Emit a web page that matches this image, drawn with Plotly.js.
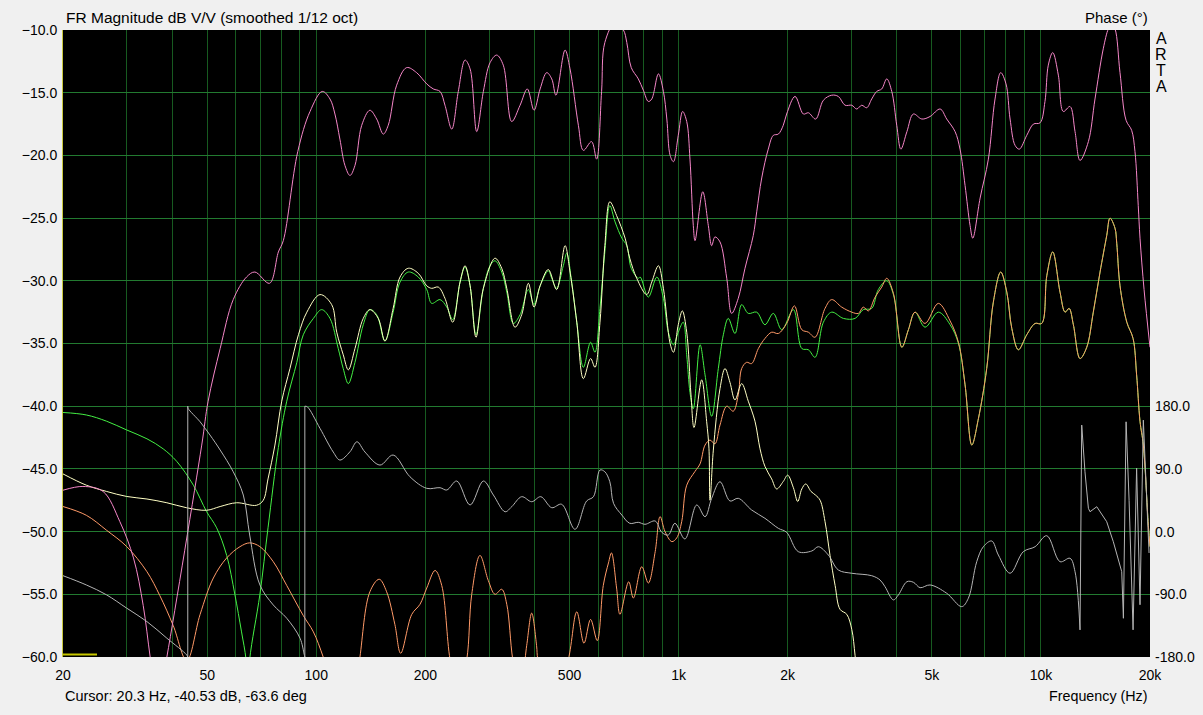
<!DOCTYPE html>
<html>
<head>
<meta charset="utf-8">
<script src="https://cdn.plot.ly/plotly-3.0.1.min.js"></script>
<style>
  html, body { margin: 0; padding: 0; background: #f0f0f0; }
  #chart { width: 1203px; height: 715px; }
</style>
</head>
<body>
<div id="chart"></div>
<script>
// ---- tick definitions ----
const gridFreqs = [20,30,40,50,60,70,80,90,100,200,300,400,500,600,700,800,900,1000,2000,3000,4000,5000,6000,7000,8000,9000,10000,20000];
const gridLabels = ['20','','','50','','','','','100','200','','','500','','','','','1k','2k','','','5k','','','','','10k','20k'];
const dbTicks = [-60,-55,-50,-45,-40,-35,-30,-25,-20,-15,-10];
const phaseTicks = [-180,-90,0,90,180];
const phaseLabels = ['-180.0','-90.0','0.0','90.0','180.0'];

// ---- series: [frequency Hz, value] ----
const pinkMag = [[20,-46.7],[22.7,-46.4],[25.8,-46.8],[28.7,-49.2],[31.3,-52.1],[33.3,-55.9],[34.8,-60.0],[36.5,-64],[38.7,-60.0],[48.3,-43.1],[50.3,-39.6],[54.3,-35.4],[59.0,-31.5],[64.2,-29.7],[67.7,-29.3],[74.3,-30.2],[78.6,-27.7],[81.1,-26.8],[88.9,-19.7],[96.1,-16.5],[103.9,-14.9],[109.1,-15.5],[112.6,-16.7],[116.2,-18.7],[120.0,-20.8],[123.9,-21.6],[127.9,-20.8],[133.5,-17.6],[140.6,-16.4],[146.8,-17.1],[153.1,-18.3],[158.0,-17.6],[166.7,-14.4],[177.6,-13.0],[189.2,-13.4],[201.8,-14.3],[210.4,-14.7],[219.6,-14.9],[226.6,-16.0],[236.6,-17.9],[246.6,-14.9],[257.4,-12.4],[265.8,-13.1],[277.2,-18.1],[289.2,-14.9],[301.8,-12.6],[314.8,-12.0],[328.2,-12.8],[346.2,-17.3],[365.2,-16.0],[382.4,-14.7],[399,-16.4],[414.8,-14.7],[432.6,-13.4],[446.6,-13.9],[458.6,-15.2],[486,-11.6],[501.6,-13.1],[529,-17.6],[546,-19.6],[575.2,-18.9],[594,-20.3],[613,-14.9],[625.8,-11.0],[667.8,-9.4],[704.2,-10.0],[719.6,-11.0],[740.2,-13.0],[774.2,-13.9],[799.2,-14.8],[825,-15.7],[843.2,-15.5],[879.8,-13.5],[908,-14.9],[928,-17.1],[947.6,-20.0],[968,-20.5],[998,-18.4],[1026,-16.5],[1053,-17.3],[1075,-20.3],[1098,-25.6],[1110,-26.8],[1166,-22.9],[1208,-25.6],[1234,-27.2],[1260,-26.5],[1301,-26.9],[1358,-29.8],[1401,-32.6],[1461,-31.4],[1525,-29.0],[1607,-26.4],[1643,-24.5],[1696,-21.8],[1768,-19.5],[1826,-18.4],[1885,-18.3],[1945,-17.6],[1987,-16.7],[2096,-15.3],[2210,-16.7],[2282,-16.6],[2390,-17.1],[2510,-15.6],[2646,-15.2],[2760,-15.3],[2880,-16.0],[3006,-16.0],[3102,-16.3],[3202,-16.0],[3306,-16.2],[3412,-15.5],[3522,-14.9],[3636,-14.7],[3754,-13.9],[3876,-14.9],[4000,-17.6],[4106,-19.5],[4268,-18.1],[4446,-16.7],[4692,-17.1],[4942,-16.9],[5270,-16.3],[5495,-17.1],[5795,-18.1],[5980,-19.5],[6175,-22.4],[6375,-25.6],[6485,-26.6],[6795,-23.4],[7160,-20.3],[7470,-15.5],[7745,-13.4],[8010,-14.3],[8220,-17.1],[8485,-19.2],[8720,-19.5],[9140,-18.4],[9535,-17.5],[9945,-17.4],[10260,-15.7],[10480,-12.8],[10780,-11.8],[11170,-13.6],[11530,-16.5],[12030,-16.1],[12420,-18.1],[12820,-20.4],[13520,-18.9],[14100,-15.5],[14860,-11.5],[15350,-9.9],[15660,-9.5],[16010,-9.9],[16530,-13.4],[17180,-17.2],[17800,-18.0],[18180,-19.7],[18560,-24.0],[18770,-26.6],[19260,-30.7],[20000,-35.3]];

const greenMag = [[20,-40.5],[23.2,-40.7],[26.4,-41.2],[30.0,-41.9],[34.1,-42.6],[37.8,-43.4],[41.2,-44.4],[45.8,-46.3],[49.8,-48.4],[53.1,-49.7],[56.6,-51.9],[59.6,-55.0],[62.2,-58.0],[64.0,-60.2],[64.8,-63],[65.5,-60.2],[69.9,-55.0],[73.6,-49.7],[78.6,-43.3],[82.9,-39.6],[88.4,-36.5],[92.1,-34.3],[98.2,-33.0],[103.5,-32.3],[109.1,-33.0],[115,-35.4],[118.7,-37.0],[122.6,-38.2],[127.9,-36.5],[134.8,-33.5],[140.6,-32.3],[146.8,-32.7],[154.7,-34.8],[163.0,-32.5],[170.3,-30.1],[179.5,-29.3],[191.2,-29.7],[201.8,-30.7],[208.2,-31.8],[219.6,-31.5],[229.2,-32.1],[238,-33.1],[249.4,-30.1],[257.4,-28.9],[265.8,-30.4],[276,-34.3],[289.2,-30.6],[301.8,-28.8],[311.4,-28.4],[325,-29.3],[335.6,-30.9],[350,-33.4],[365.2,-32.7],[385,-30.7],[399,-31.9],[414.8,-30.4],[437,-29.2],[446.6,-29.8],[460.6,-30.6],[480.6,-28.8],[491.2,-27.8],[507,-30.1],[523.6,-33.3],[546,-36.9],[571.6,-34.9],[587.8,-35.7],[606.8,-32.2],[625.8,-27.7],[646,-24.0],[667.8,-25.3],[697.2,-26.6],[719.6,-27.2],[740.2,-29.0],[774,-29.8],[783.6,-29.7],[825,-31.3],[871,-29.7],[908,-31.4],[937,-34.1],[968,-35.1],[998,-34.1],[1030,-33.3],[1053,-35.9],[1075,-38.9],[1098,-40.2],[1146,-35.1],[1183,-37.5],[1234,-40.8],[1287,-37.0],[1329,-34.3],[1371,-33.0],[1431,-34.2],[1493,-31.9],[1557,-32.6],[1643,-32.5],[1731,-33.5],[1826,-32.6],[1926,-33.9],[2074,-32.3],[2188,-35.4],[2282,-35.5],[2380,-36.1],[2510,-33.3],[2646,-32.5],[2850,-33.0],[3070,-33.0],[3234,-32.3],[3412,-32.2],[3558,-30.7],[3754,-30.0],[3916,-31.1],[4132,-35.3],[4308,-33.9],[4494,-32.5],[4788,-33.7],[5210,-32.5],[5615,-33.5],[5920,-35.0],[6175,-38.3],[6445,-43.1],[6720,-41.0],[7085,-37.0],[7390,-31.7],[7745,-29.3],[8050,-30.9],[8310,-33.8],[8665,-35.5],[9140,-34.3],[9635,-33.4],[10050,-33.4],[10380,-29.6],[10780,-27.7],[11290,-30.9],[11660,-32.5],[11960,-32.2],[12290,-33.5],[12820,-36.2],[13380,-35.3],[13950,-32.5],[14560,-29.3],[15190,-26.4],[15510,-25.0],[16010,-25.8],[16190,-27.0],[16530,-30.4],[17260,-33.3],[17960,-34.6],[18370,-37.5],[18770,-41.2],[19170,-43.1],[19790,-49.5],[20000,-51.2]];

const whiteMag = [[20,-45.4],[23.2,-46.3],[26.4,-46.8],[30.0,-47.2],[34.1,-47.4],[38.7,-47.7],[43.9,-48.1],[49.8,-48.3],[54.3,-48.0],[60.3,-47.7],[68.4,-47.9],[71.4,-47.5],[73.6,-45.8],[76.9,-43.1],[80.3,-39.6],[84.6,-37.0],[89.3,-34.3],[94.2,-32.5],[102.4,-31.1],[110.3,-31.9],[113.9,-34.1],[118.7,-35.9],[122.6,-37.1],[127.9,-35.4],[134.8,-33.0],[140.6,-32.3],[148.3,-33.0],[154.7,-34.8],[163.0,-32.2],[170.3,-29.7],[179.5,-29.0],[191.2,-29.4],[201.8,-30.4],[208.2,-30.6],[217.2,-30.5],[226.6,-31.4],[238,-33.3],[249.4,-30.1],[257.4,-28.8],[265.8,-30.4],[276,-34.5],[289.2,-30.6],[311.4,-28.2],[325,-29.0],[335.6,-30.6],[353.6,-33.7],[369,-32.7],[385,-30.2],[399,-32.1],[414.8,-30.4],[437,-29.1],[460.6,-30.7],[486,-27.2],[501.6,-29.3],[523.6,-33.3],[546,-37.8],[571.6,-36.2],[587.8,-36.9],[606.8,-33.3],[625.8,-27.2],[646,-23.7],[674.4,-24.8],[711.8,-26.6],[733.2,-28.2],[766.4,-29.8],[816.4,-31.1],[843.2,-30.1],[879.8,-28.8],[908,-30.6],[947.6,-35.0],[968,-35.7],[998,-33.5],[1024,-32.4],[1053,-34.1],[1082,-39.1],[1103,-41.7],[1158,-37.9],[1195,-41.2],[1213,-43.4],[1221,-47.5],[1247,-43.5],[1301,-38.6],[1343,-37.0],[1386,-38.1],[1431,-39.5],[1493,-38.2],[1557,-39.6],[1625,-41.2],[1678,-43.4],[1731,-44.8],[1807,-45.8],[1865,-46.6],[1945,-46.0],[2000,-45.5],[2074,-46.5],[2132,-47.6],[2188,-46.6],[2244,-46.2],[2320,-46.8],[2390,-47.1],[2458,-47.5],[2536,-49.2],[2618,-51.9],[2704,-54.3],[2790,-56.2],[2912,-56.6],[3006,-57.8],[3070,-59.9],[3168,-64]];

const orangeMag = [[20,-48.0],[23.2,-48.7],[26.4,-49.9],[30.0,-51.2],[34.1,-53.2],[37.0,-55.1],[40.3,-57.5],[43.9,-60.3],[47.8,-56.6],[52.0,-53.7],[56.6,-52.1],[61.6,-51.2],[65.5,-50.9],[69.9,-51.2],[76.1,-52.4],[82.9,-54.3],[92.1,-56.7],[98.2,-58.0],[104.5,-60.0],[112.6,-63],[127.9,-63],[132,-60.0],[140.6,-54.8],[149.2,-53.8],[156.4,-54.8],[164.8,-57.4],[171,-59.7],[183.5,-56.6],[193.3,-55.8],[201.8,-54.5],[212.8,-53.1],[222,-54.3],[234,-60.2],[246,-63],[260.2,-60.2],[268.6,-55.0],[283,-51.9],[298.4,-53.9],[311.4,-55.0],[325,-54.6],[335.6,-55.8],[348.6,-60.2],[365,-63],[380.8,-59.1],[393.2,-56.5],[405.6,-59.1],[409,-60.2],[450,-64],[496.2,-60.2],[523.6,-56.4],[548.2,-58.9],[571.6,-57.0],[596.4,-58.7],[619.6,-54.3],[640.4,-52.5],[652.8,-51.7],[674.4,-54.5],[689,-56.6],[728.4,-54.0],[750.2,-55.3],[791.4,-52.8],[825,-54.1],[861.8,-51.6],[889.2,-48.8],[917.4,-50.0],[958,-50.8],[988.2,-50.5],[1020,-49.2],[1053,-46.3],[1110,-45.2],[1146,-44.6],[1183,-43.1],[1221,-42.7],[1260,-43.0],[1301,-41.5],[1358,-40.0],[1415,-40.4],[1461,-39.1],[1493,-37.0],[1541,-36.5],[1591,-36.6],[1660,-35.4],[1731,-34.6],[1807,-34.1],[1885,-34.2],[1987,-33.4],[2088,-32.0],[2188,-33.9],[2282,-34.1],[2380,-34.5],[2536,-32.2],[2646,-31.5],[2820,-32.1],[3006,-32.5],[3134,-32.6],[3234,-32.1],[3340,-32.4],[3486,-31.3],[3636,-30.5],[3754,-29.8],[3916,-31.0],[4132,-35.3],[4308,-33.9],[4494,-32.5],[4788,-33.4],[5210,-31.8],[5615,-33.2],[5920,-34.9],[6175,-38.3],[6445,-43.1],[6720,-41.0],[7085,-37.0],[7390,-31.7],[7745,-29.3],[8050,-30.9],[8310,-33.8],[8665,-35.5],[9140,-34.3],[9635,-33.4],[10050,-33.4],[10380,-29.6],[10780,-27.7],[11290,-30.9],[11660,-32.5],[11960,-32.2],[12290,-33.5],[12820,-36.2],[13380,-35.3],[13950,-32.5],[14560,-29.3],[15190,-26.4],[15510,-25.0],[16010,-25.8],[16190,-27.0],[16530,-30.4],[17260,-33.3],[17960,-34.6],[18370,-37.5],[18770,-41.2],[19170,-43.1],[19790,-49.5],[20000,-51.2]];

// phase in degrees; wrap-arounds at +-180 are separate segments
const phaseSeg1 = [[20,-63.3],[23.2,-76.6],[26.4,-90.9],[30.0,-110.0],[34.1,-129.2],[38.7,-153.0],[43.9,-177.0],[44.2,-180]];
const phaseSeg2 = [[44.2,180],[44.3,176.8],[47.8,157.6],[50.9,138.6],[54.3,117.1],[59.0,85.9],[62.9,52.5],[65.5,-4.9],[69.9,-76.6],[76.1,-105.3],[82.9,-124.4],[90.2,-153.0],[92.6,-176.0],[93.0,-180]];
const phaseSeg3 = [[93.0,180],[94.5,179.1],[102.4,148.2],[111.4,114.2],[116.2,102.7],[123.9,114.6],[129.5,128.9],[136.3,114.2],[149.9,95.5],[163.0,109.9],[181.4,78.7],[201.8,62.1],[219.6,63.0],[229.2,59.7],[244.2,72.6],[265.8,38.2],[289.2,72.6],[308.2,52.5],[332,28.5],[346.2,35.7],[369,50.1],[393.2,42.9],[416.6,50.1],[446.6,34.3],[475.6,39.2],[517.8,3.3],[557.4,43.9],[582.2,50.1],[606.8,88.4],[625.8,85.9],[646,71.6],[661.4,40.6],[697.2,23.8],[733.2,11.9],[774,13.3],[807.8,10.5],[861.8,15.2],[898.6,-1.0],[937,-4.9],[977,11.9],[1041,-10.6],[1122,38.2],[1183,21.4],[1234,47.8],[1301,71.6],[1386,43.9],[1461,47.8],[1591,31.0],[1731,19.1],[1885,4.7],[1987,-1.0],[2140,-28.8],[2332,-27.8],[2432,-21.7],[2590,-33.6],[2760,-55.1],[3006,-59.8],[3412,-63.3],[3596,-69.4],[3712,-79.0],[3916,-98.1],[4042,-90.9],[4268,-71.9],[4446,-72.7],[4640,-80.5],[4942,-76.6],[5495,-88.5],[6045,-107.7],[6305,-95.7],[6650,-43.2],[6935,-21.7],[7315,-13.5],[7630,-33.6],[8220,-59.8],[8940,-28.8],[9635,-21.7],[10380,-5.9],[11290,-43.2],[12030,-38.3],[12420,-57.5],[12820,-141.1]];
const phaseSeg4 = [[12820,-141.1],[12960,152.9],[13230,85.9],[13520,33.4],[13660,28.5],[14260,35.7],[15190,14.2],[15840,-14.5],[16710,-57.5],[16890,-124.4],[17180,157.6],[17510,45],[17960,-141],[18370,91],[18770,-105],[19170,160],[19880,-30.7]];

const colors = { pink:'#f586c8', green:'#44f044', white:'#ffffc4', orange:'#ff9a68', gray:'#b4b4b4' };

function tr(pts, color, yaxis, shape) {
  return { x: pts.map(p=>p[0]), y: pts.map(p=>p[1]), type:'scatter', mode:'lines',
    line:{color:color, width:1, shape: shape || 'spline', smoothing: 1}, yaxis: yaxis||'y', hoverinfo:'skip' };
}

const data = [
  tr(phaseSeg1, colors.gray, 'y2'),
  tr([phaseSeg1[phaseSeg1.length-1], phaseSeg2[0]], colors.gray, 'y2', 'linear'),
  tr(phaseSeg2, colors.gray, 'y2'),
  tr([phaseSeg2[phaseSeg2.length-1], phaseSeg3[0]], colors.gray, 'y2', 'linear'),
  tr(phaseSeg3, colors.gray, 'y2'),
  tr(phaseSeg4, colors.gray, 'y2', 'linear'),
  tr(greenMag, colors.green),
  tr(orangeMag, colors.orange),
  tr(whiteMag, colors.white),
  tr(pinkMag, colors.pink)
];

const fam = '"Liberation Sans", Arial, sans-serif';
const tickFont = {family:fam, size:14, color:'#000'};
const plotH = 627.4, plotW = 1087;
const py = v => (657 - v)/plotH;   // helper: pixel row -> paper y (labels only)
const px = v => (v - 63)/plotW;
const note = (text, x, y, xa, size) => ({text:text, xref:'paper', yref:'paper', x:x, y:y, xanchor:xa, yanchor:'middle', showarrow:false, font:{family:fam, size:size, color:'#000'}});

const layout = {
  width:1203, height:715,
  paper_bgcolor:'#f0f0f0', plot_bgcolor:'#000000',
  margin:{l:63, r:53, t:30, b:58, pad:0},
  showlegend:false,
  font: tickFont,
  xaxis:{ type:'log', range:[Math.log10(20), Math.log10(20000)], tickvals:gridFreqs, ticktext:gridLabels,
    showgrid:true, gridcolor:'#175a20', gridwidth:1, zeroline:false, showline:false, ticks:'',
    tickfont:tickFont, ticklabelstandoff:8, fixedrange:true },
  yaxis:{ range:[-60,-10], tickvals:dbTicks, tickformat:'.1f', showgrid:true, gridcolor:'#227a30', gridwidth:1,
    zeroline:false, showline:true, linecolor:'#c8c83c', linewidth:1, ticks:'', tickfont:tickFont, ticklabelstandoff:2 },
  yaxis2:{ overlaying:'y', side:'right', range:[-180,720], tickvals:phaseTicks, ticktext:phaseLabels,
    showgrid:false, zeroline:false, showline:false, ticks:'', tickfont:tickFont, ticklabelstandoff:4 },
  annotations:[
    note('FR Magnitude dB V/V (smoothed 1/12 oct)', px(64), py(17), 'left', 15.5),
    note('Phase (°)', 1, py(17), 'right', 15),
    note('Cursor: 20.3 Hz, -40.53 dB, -63.6 deg', px(63), py(696), 'left', 14.5),
    note('Frequency (Hz)', 1, py(696), 'right', 14.3),
    note('A', px(1161), py(38), 'center', 16),
    note('R', px(1161), py(54), 'center', 16),
    note('T', px(1161), py(70), 'center', 16),
    note('A', px(1161), py(86), 'center', 16)
  ],
  shapes:[
    {type:'line', xref:'paper', yref:'paper', x0:0, x1:px(97), y0:py(654.5), y1:py(654.5), line:{color:'#c8c800', width:2}}
  ]
};

Plotly.newPlot('chart', data, layout, {staticPlot:true, displayModeBar:false});
</script>
</body>
</html>
